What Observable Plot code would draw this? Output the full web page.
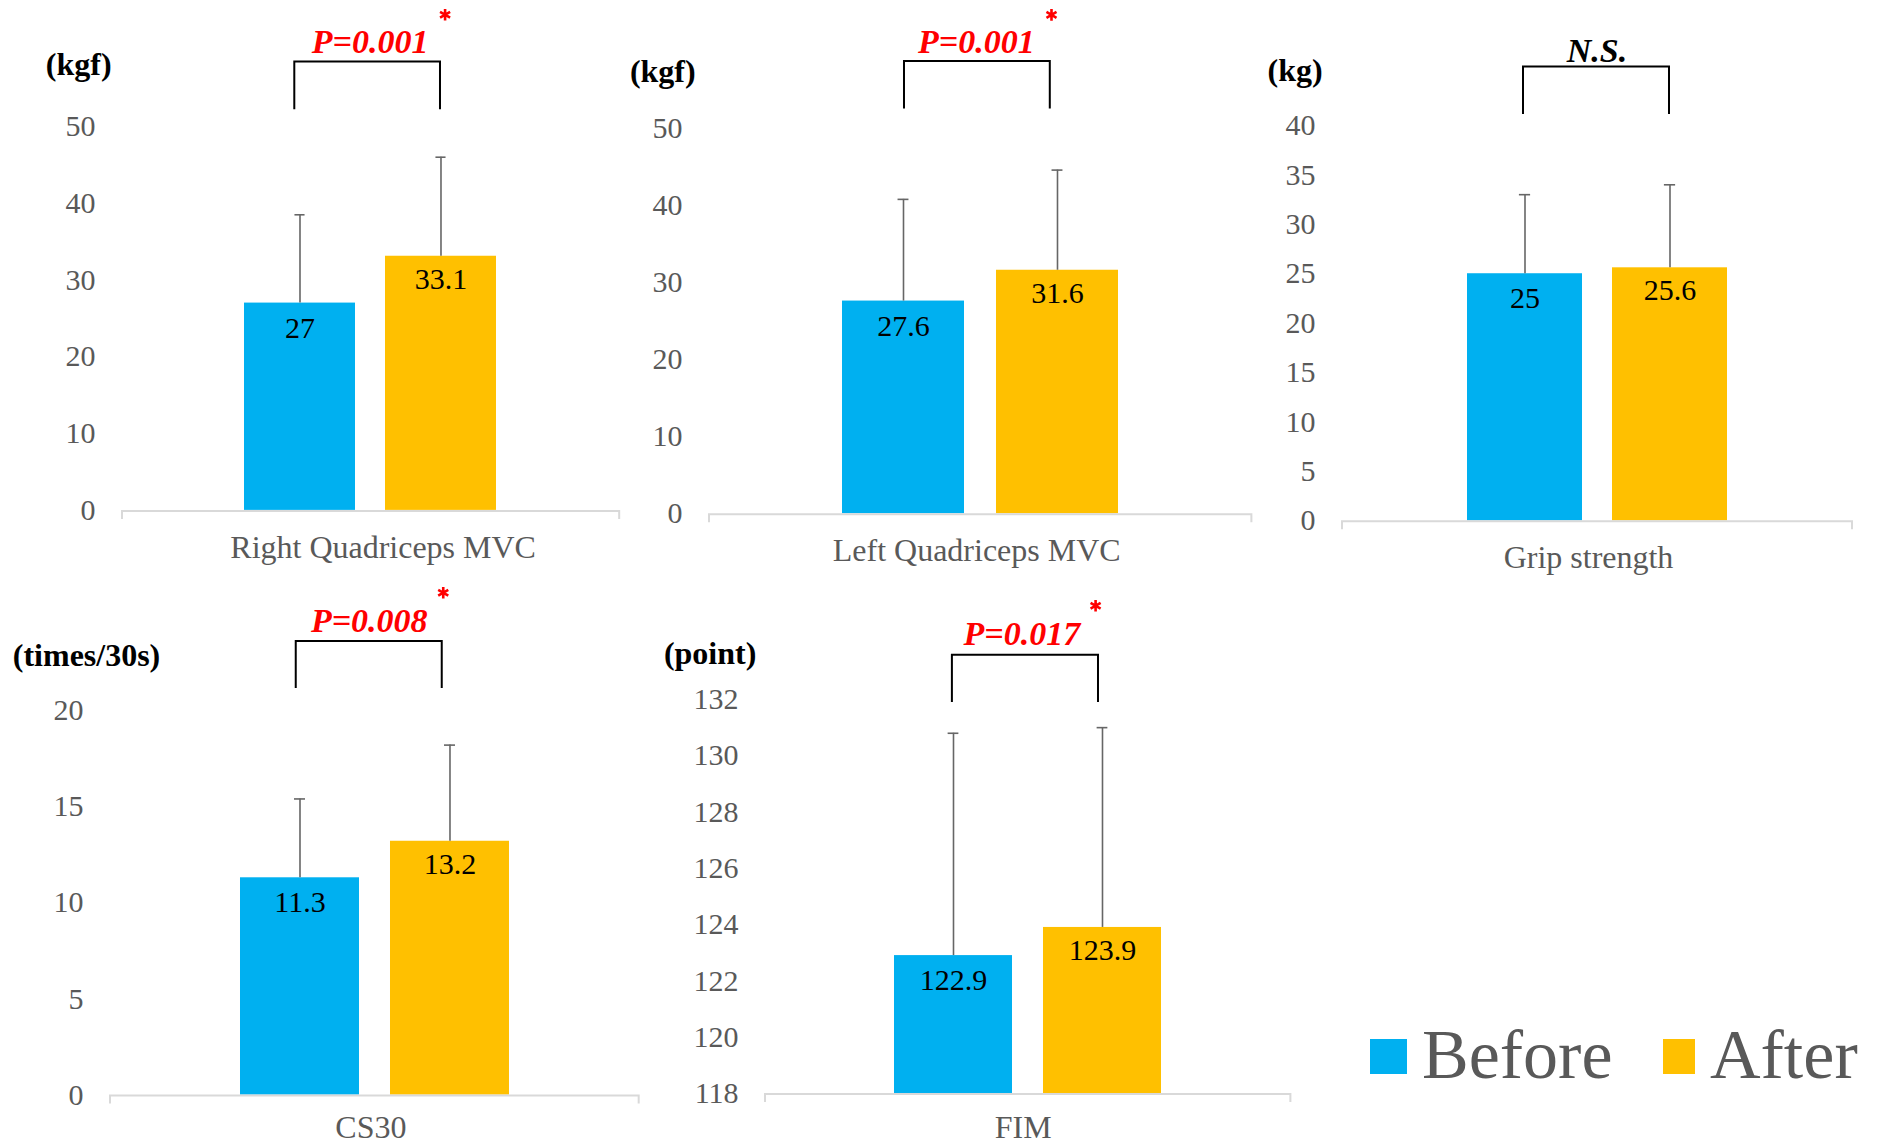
<!DOCTYPE html>
<html>
<head>
<meta charset="utf-8">
<script src="https://cdn.jsdelivr.net/npm/d3@7"></script>
<script src="https://cdn.jsdelivr.net/npm/@observablehq/plot@0.6"></script>
<style>
  html, body { margin: 0; padding: 0; background: #fff; }
  #chart { position: relative; width: 1882px; height: 1147px; overflow: hidden; background: #fff;
           font-family: "Liberation Serif", "Times New Roman", serif; }
  #chart svg { position: absolute; overflow: visible; }
  .sw { position: absolute; }
  .lt { position: absolute; font-family: "Liberation Serif", serif; font-size: 70px; line-height: 70px; color: #595959; white-space: nowrap; }
</style>
</head>
<body>
<div id="chart"></div>
<script>
// ---------------- data ----------------
const groups = ["Before", "After"];
const categories = ["Right Quadriceps MVC", "Left Quadriceps MVC", "Grip strength", "CS30", "FIM"];
const units = ["(kgf)", "(kgf)", "(kg)", "(times/30s)", "(point)"];
const beforeMeans = [27, 27.6, 25, 11.3, 122.9];
const afterMeans = [33.1, 31.6, 25.6, 13.2, 123.9];
const beforeSD = [11.5, 13.2, 8.0, 4.1, 7.9];
const afterSD = [12.9, 13.0, 8.4, 5.0, 7.1];
const pLabels = ["P=0.001", "P=0.001", "N.S.", "P=0.008", "P=0.017"];
const significant = [true, true, false, true, true];
const yDomains = [[0, 50], [0, 50], [0, 40], [0, 20], [118, 132]];
const yTickSteps = [10, 10, 5, 5, 2];
const colors = ["#00B0F0", "#FFC000"];

// ---------------- layout (page pixels) ----------------
const ML = 110, MR = 20, MT = 125, MB = 60;
const frames = [ // left, right, top, bottom of each plot frame
  [122.4, 619.6, 125.8, 509.7],
  [708.6, 1251, 128.4, 513.6],
  [1342, 1852, 125, 520.3],
  [110.3, 639, 709.8, 1094.4],
  [764.6, 1290, 698.8, 1092.8]
];
const annot = [ // offsets relative to frame (top-left for unit, top-center for the rest)
  {unit: [-76.7, -62.2], br: [-64.4, -16.8, -76.3, 69.4], p: [-1, -84.4], star: [74, -111.8], cat: [12, 37]},
  {unit: [-79.6, -56.4], br: [-67, -19.4, -76.2, 69.6], p: [-4.3, -85.9], star: [70.8, -113.6], cat: [-4, 37]},
  {unit: [-75, -54.7], br: [-58.4, -11, -74, 72], p: [-0.5, -74], star: [0, 0], cat: [-9, 37]},
  {unit: [-97.7, -54.4], br: [-69.1, -22, -78.6, 67.4], p: [-5.6, -89.4], star: [68.4, -117.8], cat: [-4, 33]},
  {unit: [-101.6, -46], br: [-44.2, 3, -75.8, 70.3], p: [-6.3, -65.5], star: [67.4, -93.8], cat: [-5, 34]}
];

const chart = document.getElementById("chart");
const PI = 0.21, PO = 0.86;
const serif = "Liberation Serif, Times New Roman, serif";

function bracketMark(topOff, botOff, lx, rx) {
  return (index, scales, values, dims) => {
    const cx = dims.marginLeft + (dims.width - dims.marginLeft - dims.marginRight) / 2;
    const y0 = dims.marginTop;
    return d3.create("svg:path")
      .attr("d", `M${cx + lx},${y0 + botOff}V${y0 + topOff}H${cx + rx}V${y0 + botOff}`)
      .attr("fill", "none").attr("stroke", "#000").attr("stroke-width", 2)
      .node();
  };
}
function baselineMark() {
  return (index, scales, values, dims) => {
    const x0 = dims.marginLeft, x1 = dims.width - dims.marginRight;
    const y = dims.height - dims.marginBottom + 1;
    return d3.create("svg:path")
      .attr("d", `M${x0},${y + 8}V${y}H${x1}V${y + 8}`)
      .attr("fill", "none").attr("stroke", "#d9d9d9").attr("stroke-width", 2)
      .node();
  };
}

categories.forEach((cat, i) => {
  const [fl, fr, ft, fb] = frames[i];
  const a = annot[i];
  const fw = fr - fl, fh = fb - ft;
  const [ymin, ymax] = yDomains[i];
  const rows = groups.map((g, j) => ({
    group: g,
    mean: j ? afterMeans[i] : beforeMeans[i],
    sd: j ? afterSD[i] : beforeSD[i]
  }));
  const bw = fw * (1 - PI) / (2 - PI + 2 * PO);
  const capInset = (bw - 11) / 2;
  const marks = [
    Plot.axisY({
      ticks: d3.range(ymin, ymax + 1e-9, yTickSteps[i]),
      tickSize: 0, tickPadding: 27, fontSize: 30, color: "#595959",
      label: null, tickFormat: d => String(d)
    }),
    Plot.barY(rows, {x: "group", y1: () => ymin, y2: "mean", fill: "group"}),
    Plot.ruleX(rows, {x: "group", y1: "mean", y2: d => d.mean + d.sd, stroke: "#666", strokeWidth: 1.6}),
    Plot.tickY(rows, {x: "group", y: d => d.mean + d.sd, stroke: "#666", strokeWidth: 1.6, insetLeft: capInset, insetRight: capInset}),
    Plot.text(rows, {filter: d => d.group === "Before", x: "group", y: "mean", text: d => String(d.mean),
      dy: 25, lineAnchor: "middle", fontSize: 30, fill: "#000"}),
    Plot.text(rows, {filter: d => d.group === "After", x: "group", y: "mean", text: d => String(d.mean),
      dy: 23, lineAnchor: "middle", fontSize: 30, fill: "#000"}),
    baselineMark(),
    Plot.text([cat], {frameAnchor: "bottom", dx: a.cat[0], dy: a.cat[1], lineAnchor: "middle", fontSize: 32, fill: "#595959"}),
    Plot.text([units[i]], {frameAnchor: "top-left", dx: a.unit[0], dy: a.unit[1], textAnchor: "start",
      lineAnchor: "middle", fontSize: 32, fontWeight: "bold", fill: "#000"}),
    bracketMark(a.br[0], a.br[1], a.br[2], a.br[3]),
    Plot.text([pLabels[i]], {frameAnchor: "top", dx: a.p[0], dy: a.p[1], lineAnchor: "middle",
      fontSize: 34, fontWeight: "bold", fontStyle: "italic", fill: significant[i] ? "#FF0000" : "#000"})
  ];
  if (significant[i]) {
    marks.push(Plot.dot([pLabels[i]], {frameAnchor: "top", dx: a.star[0], dy: a.star[1], symbol: "asterisk",
      r: 5.5, stroke: "#FF0000", strokeWidth: 2.6}));
  }
  const svg = Plot.plot({
    width: ML + fw + MR,
    height: MT + fh + MB,
    marginLeft: ML, marginRight: MR, marginTop: MT, marginBottom: MB,
    style: {background: "transparent", fontFamily: serif, overflow: "visible"},
    x: {type: "band", domain: groups, paddingInner: PI, paddingOuter: PO, axis: null},
    y: {domain: yDomains[i], axis: null},
    color: {domain: groups, range: colors},
    marks
  });
  svg.style.left = (fl - ML) + "px";
  svg.style.top = (ft - MT) + "px";
  svg.style.maxWidth = "none";
  chart.appendChild(svg);
});

// ---------------- legend ----------------
const legendPos = [
  {box: [1370, 1039, 37, 35], text: [1422, 1020]},
  {box: [1663, 1039, 32, 35], text: [1710, 1020]}
];
groups.forEach((g, j) => {
  const p = legendPos[j];
  const sw = document.createElement("div");
  sw.className = "sw";
  Object.assign(sw.style, {left: p.box[0] + "px", top: p.box[1] + "px", width: p.box[2] + "px", height: p.box[3] + "px", background: colors[j]});
  chart.appendChild(sw);
  const t = document.createElement("div");
  t.className = "lt";
  t.textContent = g;
  Object.assign(t.style, {left: p.text[0] + "px", top: p.text[1] + "px"});
  chart.appendChild(t);
});
</script>
</body>
</html>
